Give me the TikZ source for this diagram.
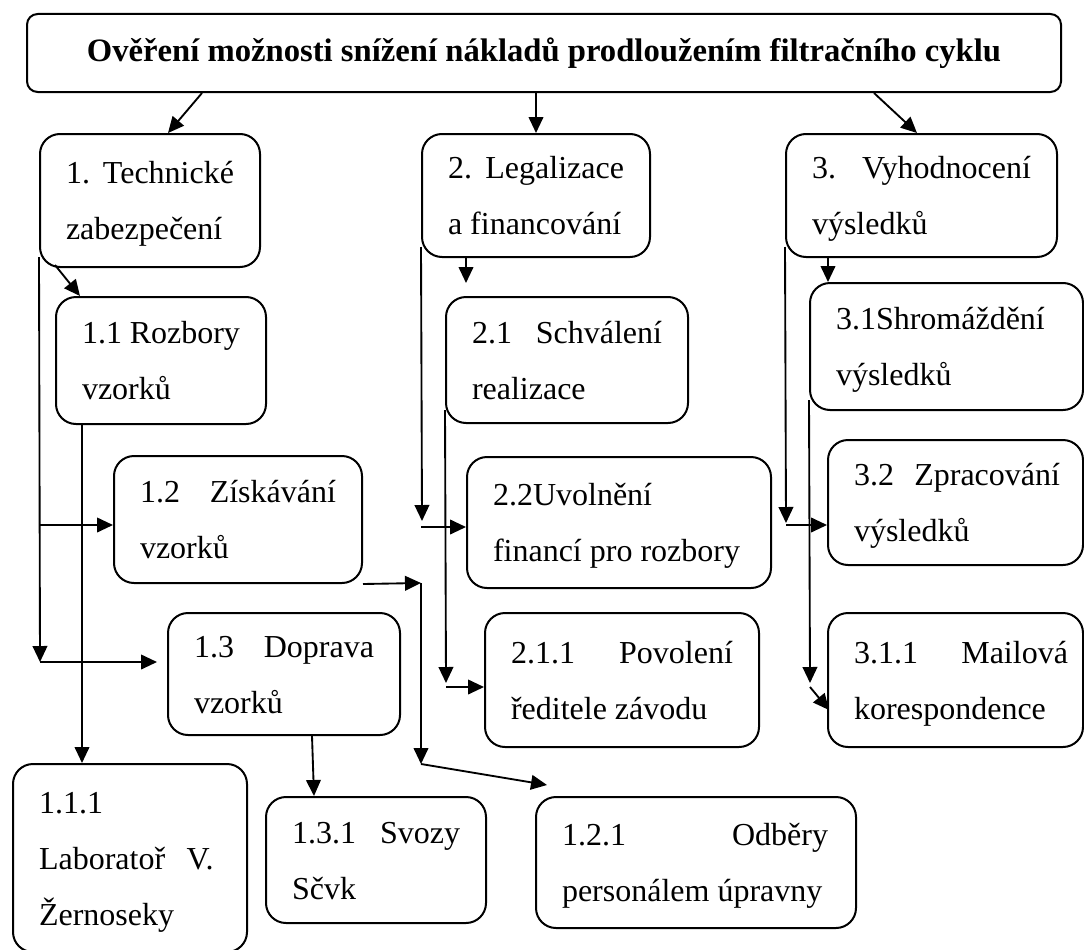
\documentclass[tikz,border=0pt]{standalone}
\usepackage{fontspec}
\setmainfont{Liberation Serif}
\usetikzlibrary{arrows.meta}
% justified first line: two parts pushed to both ends of a line of width #1
\newcommand\jl[3]{\makebox[#1][l]{#2\hfill #3}}
\begin{document}
\begin{tikzpicture}[x=0.75pt,y=-0.75pt,
  box/.style={draw, line width=1.5pt, rounded corners=15pt, inner xsep=19.5pt, inner ysep=1pt, font=\fontsize{24pt}{42pt}\selectfont},
  titlebox/.style={draw, line width=1.5pt, rounded corners=8pt, inner sep=0pt, font=\fontsize{24.5pt}{30pt}\selectfont\bfseries},
  arr/.style={line width=1.4pt, -{Triangle[length=12pt,width=11pt]}}]
\path[use as bounding box, fill=white] (0,0) rectangle (1084,949);
\clip (0,0) rectangle (1084,949);

% title
\node[titlebox, minimum width=775.5pt, minimum height=58.5pt] (top) at (544,53) {Ověření možnosti snížení nákladů prodloužením filtračního cyklu};

% level 1
\node[box, minimum height=99.75pt] (t1) at (150,200.5) {\parbox{126pt}{\strut\jl{126pt}{1.}{Technické}\\\strut zabezpečení}};
\node[box, minimum height=92.25pt] (t2) at (536,195.5) {\parbox{132pt}{\strut\jl{132pt}{2.}{Legalizace}\\\strut a financování}};
\node[box, minimum height=92.25pt] (t3) at (921.5,195.5) {\parbox{164.25pt}{\strut\jl{164.25pt}{3.}{Vyhodnocení}\\\strut výsledků}};

% column 1
\node[box, minimum height=95.25pt] (t11) at (161,360.5) {\parbox{118.5pt}{\strut\jl{118.5pt}{1.1}{Rozbory}\\\strut vzorků}};
\node[box, minimum height=95.25pt] (t12) at (238,519.5) {\parbox{147pt}{\strut\jl{147pt}{1.2}{Získávání}\\\strut vzorků}};
\node[box, minimum height=91.5pt] (t13) at (284,674) {\parbox{135pt}{\strut\jl{135pt}{1.3}{Doprava}\\\strut vzorků}};
\node[box, minimum height=141pt] (t111) at (130,858) {\parbox{136.5pt}{\strut 1.1.1\\\strut\jl{131pt}{Laboratoř}{V.}\\\strut Žernoseky}};
\node[box, minimum height=94.5pt] (t131) at (376,860) {\parbox{126pt}{\strut\jl{126pt}{1.3.1}{Svozy}\\\strut Sčvk}};
\node[box, minimum height=98.25pt] (t121) at (696,862.5) {\parbox{201pt}{\strut\jl{199.5pt}{1.2.1}{Odběry}\\\strut personálem úpravny}};

% column 2
\node[box, minimum height=94.5pt] (t21) at (567,360) {\parbox{142.5pt}{\strut\jl{142.5pt}{2.1}{Schválení}\\\strut realizace}};
\node[box, minimum height=98.25pt] (t22) at (619,522.5) {\parbox{189pt}{\strut 2.2Uvolnění\\\strut financí pro rozbory}};
\node[box, minimum height=100.5pt] (t211) at (622,680) {\parbox{166.5pt}{\strut\jl{166.5pt}{2.1.1}{Povolení}\\\strut ředitele závodu}};

% column 3
\node[box, minimum height=95.25pt] (t31) at (946.5,346.5) {\parbox{165.75pt}{\strut 3.1Shromáždění\\\strut výsledků}};
\node[box, minimum height=93.75pt] (t32) at (955.5,502.5) {\parbox{152.25pt}{\strut\makebox[152.25pt][l]{\jl{154.5pt}{3.2}{Zpracování}}\\\strut výsledků}};
\node[box, minimum height=100.5pt] (t311) at (955.5,680) {\parbox{152.25pt}{\strut\makebox[152.25pt][l]{\jl{160.5pt}{3.1.1}{Mailová}}\\\strut korespondence}};

% helper coordinates
\coordinate (ka) at (202,0);
\coordinate (kb) at (168,0);
\coordinate (kc) at (536,0);
\coordinate (kd) at (874,0);
\coordinate (ke) at (917,0);
\coordinate (kf) at (80,0);
\coordinate (kh) at (82,0);
\coordinate (ki) at (312,0);
\coordinate (kj) at (314,0);
\coordinate (kk) at (466,0);
\coordinate (kn) at (828,0);
\coordinate (yg) at (0,257);
\coordinate (yl) at (0,247);
\coordinate (ym) at (0,410);
\coordinate (yo) at (0,400);
\coordinate (c1) at (55,265);
\coordinate (j1) at (40,525);
\coordinate (j2) at (40,662);
\coordinate (e13) at (157,662);
\coordinate (q1) at (421,583);
\coordinate (q2) at (421,764);
\coordinate (q3) at (547,785);
\coordinate (r1) at (466,283);
\coordinate (r2) at (422,521);
\coordinate (r3) at (421,527);
\coordinate (r4) at (446,683);
\coordinate (r5) at (446,687);
\coordinate (s1) at (786,523);
\coordinate (s2) at (786,525);
\coordinate (s3) at (810,683);
\coordinate (s4) at (810,687);
\coordinate (s5) at (829,710);

% from title
\draw[arr] (top.south -| ka) -- (t1.north -| kb);
\draw[arr] (top.south -| kc) -- (t2.north -| kc);
\draw[arr] (top.south -| kd) -- (t3.north -| ke);

% column 1
\draw[arr] (c1) -- (t11.north -| kf);
\draw[arr] (t1.west |- yg) -- (j2);
\draw[arr] (j1) -- (t12.west |- j1);
\draw[arr] (j2) -- (e13);
\draw[arr] (t11.south -| kh) -- (t111.north -| kh);
\draw[arr] (t12.south east) -- (q1);
\draw[arr] (q1) -- (q2);
\draw[arr] (q2) -- (q3);
\draw[arr] (t13.south -| ki) -- (t131.north -| kj);

% column 2
\draw[arr] (t2.south -| kk) -- (r1);
\draw[arr] (t2.west |- yl) -- (r2);
\draw[arr] (r3) -- (t22.west |- r3);
\draw[arr] (t21.west |- ym) -- (r4);
\draw[arr] (r5) -- (t211.west |- r5);

% column 3
\draw[arr] (t3.south -| kn) -- (t31.north -| kn);
\draw[arr] (t3.west |- yl) -- (s1);
\draw[arr] (s2) -- (t32.west |- s2);
\draw[arr] (t31.west |- yo) -- (s3);
\draw[arr] (s4) -- (s5);
\end{tikzpicture}
\end{document}
